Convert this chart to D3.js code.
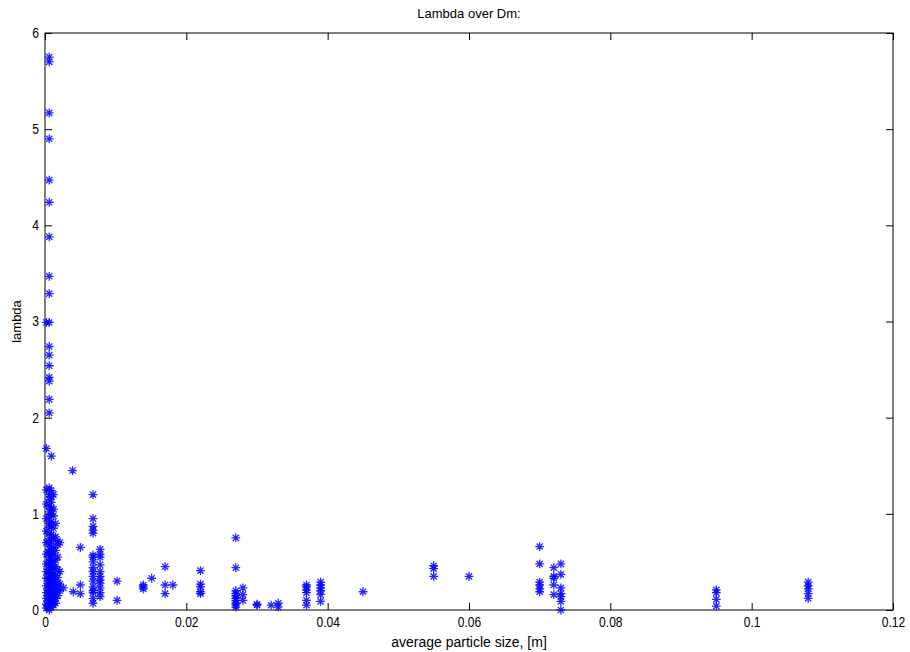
<!DOCTYPE html>
<html>
<head>
<meta charset="utf-8">
<script src="https://cdn.jsdelivr.net/npm/d3@7"></script>
<style>
  body { margin: 0; background: #fff; }
  svg { display: block; }
  text { font-family: "Liberation Sans", Arial, sans-serif; fill: #000; }
</style>
</head>
<body>
<svg id="chart" width="910" height="652"></svg>
<script>
// Data: each dm value (average particle size, m) with its lambda values
const dmValues = [0.0002, 0.0006, 0.0009, 0.0012, 0.0015, 0.0018, 0.0021, 0.0026, 0.0039, 0.004, 0.005,
  0.0068, 0.0078, 0.0102, 0.0139, 0.0151, 0.017, 0.0181, 0.022, 0.027, 0.028, 0.030, 0.032, 0.033,
  0.037, 0.039, 0.045, 0.055, 0.060, 0.070, 0.072, 0.073, 0.095, 0.108];
const lambdaValues = [
  [2.99, 1.68, 1.25, 1.1, 0.95, 0.82, 0.7, 0.58, 0.48, 0.4, 0.33, 0.25, 0.18, 0.12, 0.06, 0.02],
  [5.75, 5.70, 5.17, 4.90, 4.47, 4.24, 3.88, 3.47, 3.29, 2.99, 2.74, 2.65, 2.54, 2.42, 2.38, 2.19, 2.05,
   1.27, 1.2, 1.15, 1.08, 1.02, 0.97, 0.9, 0.86, 0.8, 0.74, 0.69, 0.63, 0.6, 0.55, 0.5, 0.46, 0.42,
   0.37, 0.33, 0.3, 0.27, 0.22, 0.2, 0.15, 0.1, 0.08, 0.04, 0.0],
  [1.6, 1.24, 1.18, 1.12, 1.05, 1.0, 0.92, 0.88, 0.78, 0.72, 0.66, 0.61, 0.57, 0.52, 0.47, 0.44, 0.39,
   0.35, 0.31, 0.28, 0.24, 0.19, 0.16, 0.11, 0.07, 0.03],
  [1.2, 1.05, 0.98, 0.85, 0.75, 0.65, 0.58, 0.5, 0.43, 0.38, 0.32, 0.26, 0.2, 0.14, 0.09, 0.05],
  [0.9, 0.76, 0.62, 0.52, 0.45, 0.36, 0.3, 0.24, 0.18, 0.12, 0.07],
  [0.71, 0.68, 0.55, 0.42, 0.34, 0.28, 0.22, 0.15],
  [0.7, 0.4, 0.27, 0.2],
  [0.23],
  [1.45],
  [0.19],
  [0.65, 0.26, 0.17],
  [1.20, 0.95, 0.87, 0.83, 0.80, 0.57, 0.55, 0.50, 0.44, 0.40, 0.35, 0.30, 0.24, 0.20, 0.18, 0.12, 0.07],
  [0.63, 0.58, 0.55, 0.47, 0.40, 0.35, 0.31, 0.28, 0.23, 0.18, 0.14],
  [0.30, 0.10],
  [0.26, 0.24, 0.22],
  [0.33],
  [0.45, 0.26, 0.17],
  [0.26],
  [0.41, 0.27, 0.24, 0.19, 0.17],
  [0.75, 0.44, 0.20, 0.17, 0.15, 0.12, 0.10, 0.07, 0.05, 0.03],
  [0.23, 0.16, 0.10],
  [0.06, 0.05],
  [0.05],
  [0.07, 0.03],
  [0.26, 0.24, 0.21, 0.18, 0.10, 0.05],
  [0.29, 0.26, 0.23, 0.20, 0.16, 0.09],
  [0.19],
  [0.46, 0.43, 0.35],
  [0.35],
  [0.66, 0.48, 0.29, 0.26, 0.22, 0.19],
  [0.44, 0.35, 0.33, 0.26, 0.16],
  [0.48, 0.37, 0.23, 0.17, 0.14, 0.09, 0.0],
  [0.21, 0.18, 0.11, 0.04],
  [0.29, 0.25, 0.22, 0.17, 0.12]
];
const xTicks = [0, 0.02, 0.04, 0.06, 0.08, 0.1, 0.12];
const yTicks = [0, 1, 2, 3, 4, 5, 6];
const titleText = "Lambda over Dm:";
const xLabel = "average particle size, [m]";
const yLabel = "lambda";

const points = [];
dmValues.forEach((d, i) => lambdaValues[i].forEach(l => points.push({ dm: d, lambda: l })));

const svg = d3.select("#chart");
const L = 45, R = 893, T = 33, B = 610;
const x = d3.scaleLinear().domain([0, 0.12]).range([L, R]);
const y = d3.scaleLinear().domain([0, 6]).range([B, T]);
const tickLen = 7;

// box
svg.append("rect").attr("x", L).attr("y", T).attr("width", R - L).attr("height", B - T)
  .attr("fill", "#fff").attr("stroke", "#000").attr("stroke-width", 1);

const fmt = d => String(+d.toFixed(2));

svg.append("g").attr("class", "xb").attr("transform", `translate(0,${B})`)
  .call(d3.axisBottom(x).tickValues(xTicks).tickSizeInner(-tickLen).tickSizeOuter(0).tickPadding(7).tickFormat(fmt));
svg.append("g").attr("transform", `translate(0,${T})`)
  .call(d3.axisTop(x).tickValues(xTicks).tickSizeInner(-tickLen).tickSizeOuter(0).tickFormat(""));
svg.append("g").attr("class", "yl").attr("transform", `translate(${L},0)`)
  .call(d3.axisLeft(y).tickValues(yTicks).tickSizeInner(-tickLen).tickSizeOuter(0).tickPadding(6).tickFormat(d3.format("d")));
svg.append("g").attr("transform", `translate(${R},0)`)
  .call(d3.axisRight(y).tickValues(yTicks).tickSizeInner(-tickLen).tickSizeOuter(0).tickFormat(""));

svg.selectAll(".domain").remove();
svg.selectAll(".tick line").attr("stroke", "#000");
const sx = 0.86;
svg.selectAll(".xb .tick text").attr("font-size", 14)
  .attr("transform", `scale(${sx},1)`);
svg.selectAll(".yl .tick text").attr("font-size", 14)
  .attr("x", -6 / sx).attr("transform", `scale(${sx},1)`);
svg.selectAll(".tick text").style("font-family", '"Liberation Sans", Arial, sans-serif');

// marker: asterisk
const s = 4.4, k = 3.1;
const star = `M${-s},0L${s},0M0,${-s}L0,${s}M${-k},${-k}L${k},${k}M${-k},${k}L${k},${-k}`;
svg.append("g").selectAll("path").data(points).join("path")
  .attr("transform", d => `translate(${x(d.dm)},${y(d.lambda)})`)
  .attr("d", star)
  .attr("fill", "none")
  .attr("stroke", "#0000ff")
  .attr("stroke-width", 1.3)
  .attr("stroke-opacity", 0.85);

// titles
svg.append("text").attr("x", (L + R) / 2).attr("y", 18).attr("text-anchor", "middle")
  .attr("font-size", 13).text(titleText);
svg.append("text").attr("x", (L + R) / 2).attr("y", 647).attr("text-anchor", "middle")
  .attr("font-size", 14).text(xLabel);
svg.append("text").attr("transform", `translate(21,${(T + B) / 2}) rotate(-90)`).attr("text-anchor", "middle")
  .attr("font-size", 13).text(yLabel);
</script>
</body>
</html>
